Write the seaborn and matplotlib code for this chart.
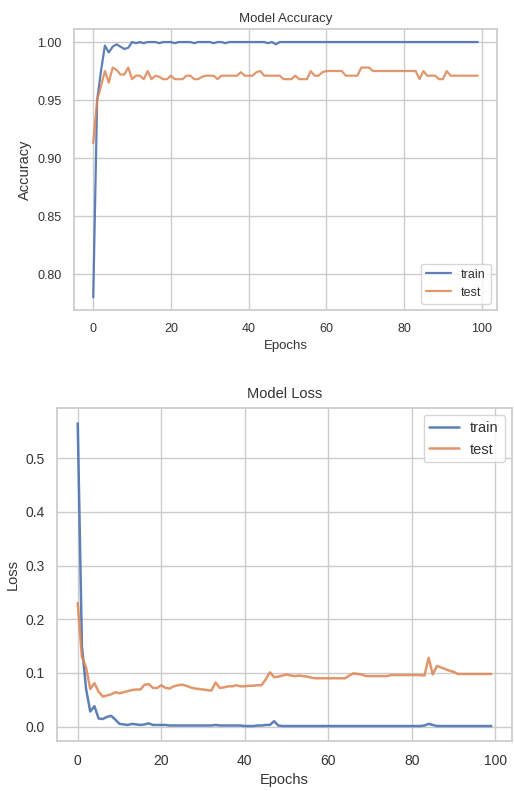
import numpy as np
import matplotlib
matplotlib.use("Agg")
import matplotlib.pyplot as plt
import seaborn as sns

# training history (100 epochs)
epochs = list(range(100))

train_acc = [0.780, 0.950, 0.975, 0.997, 0.991, 0.996, 0.998, 0.996, 0.994, 0.995,
             1.000, 0.999, 1.000, 0.999, 1.000, 1.000, 1.000, 0.999, 1.000, 1.000,
             1.000, 0.999, 1.000, 1.000, 1.000, 1.000, 0.999, 1.000, 1.000, 1.000,
             1.000, 0.999, 1.000, 1.000, 0.999, 1.000, 1.000, 1.000, 1.000, 1.000,
             1.000, 1.000, 1.000, 1.000, 1.000, 0.999, 1.000, 0.998, 1.000, 1.000,
             1.000, 1.000, 1.000, 1.000, 1.000, 1.000, 1.000, 1.000, 1.000, 1.000,
             1.000, 1.000, 1.000, 1.000, 1.000, 1.000, 1.000, 1.000, 1.000, 1.000,
             1.000, 1.000, 1.000, 1.000, 1.000, 1.000, 1.000, 1.000, 1.000, 1.000,
             1.000, 1.000, 1.000, 1.000, 1.000, 1.000, 1.000, 1.000, 1.000, 1.000,
             1.000, 1.000, 1.000, 1.000, 1.000, 1.000, 1.000, 1.000, 1.000, 1.000]

test_acc = [0.913, 0.950, 0.962, 0.975, 0.965, 0.978, 0.976, 0.972, 0.972, 0.978,
            0.968, 0.971, 0.971, 0.968, 0.975, 0.968, 0.971, 0.970, 0.968, 0.968,
            0.971, 0.968, 0.968, 0.968, 0.971, 0.971, 0.968, 0.968, 0.970, 0.971,
            0.971, 0.971, 0.968, 0.971, 0.971, 0.971, 0.971, 0.971, 0.974, 0.971,
            0.971, 0.971, 0.974, 0.975, 0.971, 0.971, 0.971, 0.971, 0.971, 0.968,
            0.968, 0.968, 0.971, 0.968, 0.968, 0.968, 0.975, 0.971, 0.971, 0.974,
            0.975, 0.975, 0.975, 0.975, 0.975, 0.971, 0.971, 0.971, 0.971, 0.978,
            0.978, 0.978, 0.975, 0.975, 0.975, 0.975, 0.975, 0.975, 0.975, 0.975,
            0.975, 0.975, 0.975, 0.975, 0.968, 0.975, 0.971, 0.971, 0.971, 0.968,
            0.968, 0.975, 0.971, 0.971, 0.971, 0.971, 0.971, 0.971, 0.971, 0.971]

train_loss = [0.565, 0.150, 0.070, 0.028, 0.038, 0.015, 0.014, 0.018, 0.020, 0.013,
              0.005, 0.004, 0.003, 0.005, 0.004, 0.003, 0.004, 0.006, 0.003, 0.003,
              0.003, 0.003, 0.002, 0.002, 0.002, 0.002, 0.002, 0.002, 0.002, 0.002,
              0.002, 0.002, 0.002, 0.003, 0.002, 0.002, 0.002, 0.002, 0.002, 0.002,
              0.001, 0.001, 0.001, 0.002, 0.002, 0.003, 0.003, 0.010, 0.002, 0.001,
              0.001, 0.001, 0.001, 0.001, 0.001, 0.001, 0.001, 0.001, 0.001, 0.001,
              0.001, 0.001, 0.001, 0.001, 0.001, 0.001, 0.001, 0.001, 0.001, 0.001,
              0.001, 0.001, 0.001, 0.001, 0.001, 0.001, 0.001, 0.001, 0.001, 0.001,
              0.001, 0.001, 0.001, 0.002, 0.005, 0.003, 0.001, 0.001, 0.001, 0.001,
              0.001, 0.001, 0.001, 0.001, 0.001, 0.001, 0.001, 0.001, 0.001, 0.001]

test_loss = [0.230, 0.130, 0.110, 0.070, 0.081, 0.065, 0.056, 0.058, 0.060, 0.064,
             0.062, 0.064, 0.066, 0.068, 0.069, 0.069, 0.078, 0.079, 0.072, 0.072,
             0.077, 0.072, 0.071, 0.075, 0.077, 0.078, 0.076, 0.073, 0.071, 0.070,
             0.069, 0.068, 0.067, 0.082, 0.072, 0.073, 0.075, 0.075, 0.077, 0.075,
             0.075, 0.076, 0.076, 0.077, 0.077, 0.088, 0.101, 0.092, 0.093, 0.095,
             0.097, 0.095, 0.094, 0.095, 0.094, 0.093, 0.091, 0.090, 0.090, 0.090,
             0.090, 0.090, 0.090, 0.090, 0.090, 0.095, 0.099, 0.098, 0.097, 0.094,
             0.094, 0.094, 0.094, 0.094, 0.094, 0.096, 0.096, 0.096, 0.096, 0.096,
             0.096, 0.096, 0.096, 0.095, 0.128, 0.097, 0.113, 0.110, 0.107, 0.104,
             0.102, 0.098, 0.098, 0.098, 0.098, 0.098, 0.098, 0.098, 0.098, 0.098]

sns.set_theme(style="whitegrid")
plt.rcParams['font.family'] = ['Liberation Sans', 'DejaVu Sans']
plt.rcParams['text.color'] = '#333333'
plt.rcParams['axes.labelcolor'] = '#333333'
plt.rcParams['xtick.color'] = '#333333'
plt.rcParams['ytick.color'] = '#333333'

fig = plt.figure(figsize=(5.14, 7.91), dpi=100)

# top: accuracy
ax1 = fig.add_axes([0.144, 0.608, 0.823, 0.355])
sns.lineplot(x=epochs, y=train_acc, ax=ax1, label='train', linewidth=1.6, alpha=0.9)
sns.lineplot(x=epochs, y=test_acc, ax=ax1, label='test', linewidth=1.6, alpha=0.85)
ax1.set_title('Model Accuracy', fontsize=9.5, pad=5)
ax1.set_ylabel('Accuracy', fontsize=10.5)
ax1.set_xlabel('Epochs', fontsize=9.5, labelpad=4)
ax1.tick_params(labelsize=9, pad=3)
ax1.set_xticks([0, 20, 40, 60, 80, 100])
ax1.set_yticks([0.80, 0.85, 0.90, 0.95, 1.00])
ax1.legend(loc='lower right', fontsize=9, frameon=True)

# bottom: loss
ax2 = fig.add_axes([0.111, 0.063, 0.885, 0.421])
sns.lineplot(x=epochs, y=train_loss, ax=ax2, label='train', linewidth=1.8, alpha=0.9)
sns.lineplot(x=epochs, y=test_loss, ax=ax2, label='test', linewidth=1.8, alpha=0.85)
ax2.set_title('Model Loss', fontsize=10.5, pad=7)
ax2.set_ylabel('Loss', fontsize=10.5)
ax2.set_xlabel('Epochs', fontsize=10.5, labelpad=4)
ax2.tick_params(labelsize=10, pad=3)
ax2.set_xticks([0, 20, 40, 60, 80, 100])
ax2.set_yticks([0.0, 0.1, 0.2, 0.3, 0.4, 0.5])
ax2.legend(loc='upper right', fontsize=10.5, frameon=True)

fig.savefig('out.png', dpi=100)
